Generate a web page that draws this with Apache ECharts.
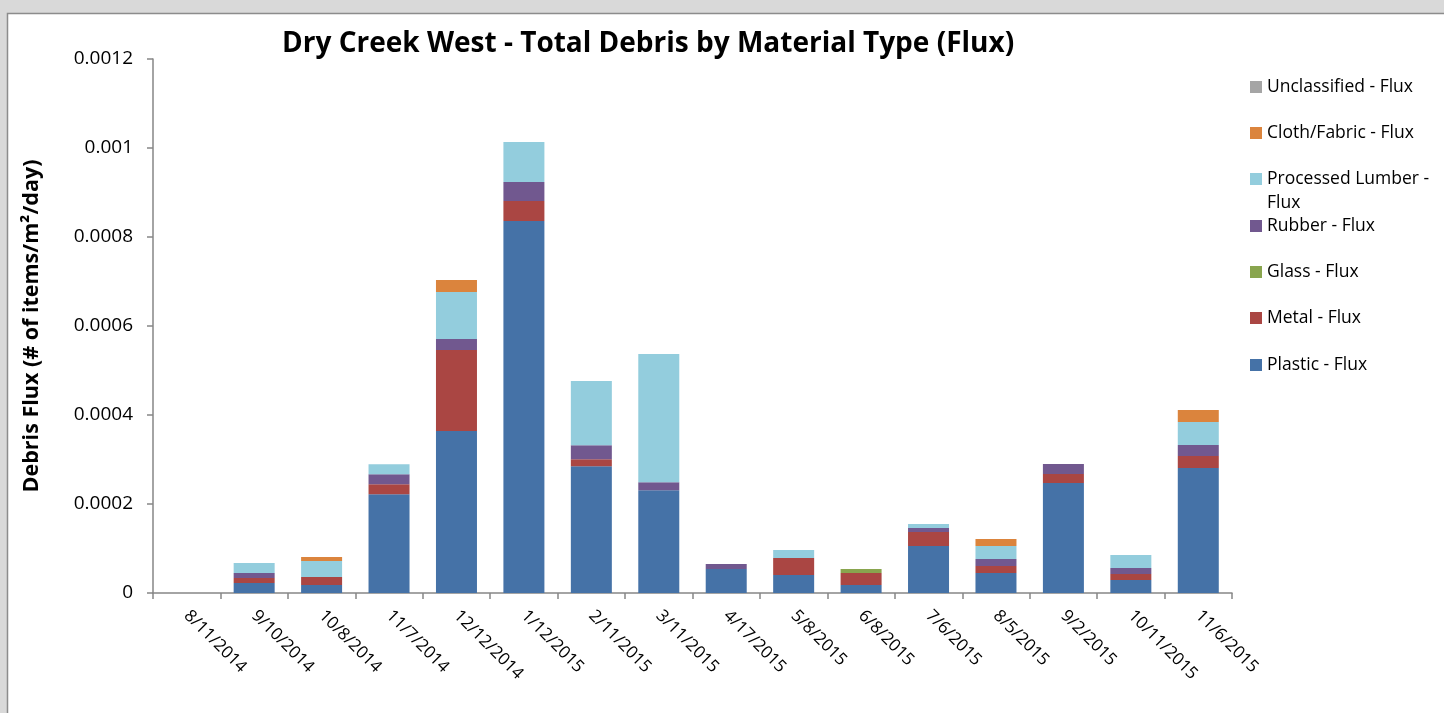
<!DOCTYPE html>
<html>
<head>
<meta charset="utf-8">
<script src="https://cdn.jsdelivr.net/npm/echarts@6/dist/echarts.min.js"></script>
<style>
html,body{margin:0;padding:0;background:#d9d9d9;}
#chart{width:1444px;height:713px;}
</style>
</head>
<body>
<div id="chart"></div>
<script>
const categories = ['8/11/2014','9/10/2014','10/8/2014','11/7/2014','12/12/2014','1/12/2015','2/11/2015','3/11/2015','4/17/2015','5/8/2015','6/8/2015','7/6/2015','8/5/2015','9/2/2015','10/11/2015','11/6/2015'];
const plastic = [0, 0.0000225, 0.000018, 0.000222, 0.000364, 0.000836, 0.000285, 0.000231, 0.000054, 0.0000404, 0.000018, 0.0001056, 0.000045, 0.000247, 0.0000292, 0.000281];
const metal   = [0, 0.0000112, 0.000018, 0.0000225, 0.000182, 0.000045, 0.0000157, 0, 0, 0.0000382, 0.000027, 0.0000315, 0.0000157, 0.0000202, 0.0000135, 0.000027];
const glass   = [0, 0, 0, 0, 0, 0, 0, 0, 0, 0, 0.000009, 0, 0, 0, 0, 0];
const rubber  = [0, 0.0000112, 0, 0.0000225, 0.0000247, 0.0000427, 0.0000315, 0.000018, 0.0000112, 0, 0, 0.000009, 0.0000157, 0.0000225, 0.0000135, 0.0000247];
const lumber  = [0, 0.0000225, 0.000036, 0.0000225, 0.0001056, 0.0000899, 0.000144, 0.000288, 0, 0.000018, 0, 0.000009, 0.0000292, 0, 0.0000292, 0.0000517];
const cloth   = [0, 0, 0.000009, 0, 0.000027, 0, 0, 0, 0, 0, 0, 0, 0.0000157, 0, 0, 0.000027];
const unclassified = [0, 0, 0, 0, 0, 0, 0, 0, 0, 0, 0, 0, 0, 0, 0, 0];
const yTicks = ['0','0.0002','0.0004','0.0006','0.0008','0.001','0.0012'];

const seriesDefs = [
  {name:'Plastic - Flux', data:plastic, color:'#4572A7'},
  {name:'Metal - Flux', data:metal, color:'#AA4643'},
  {name:'Glass - Flux', data:glass, color:'#89A54E'},
  {name:'Rubber - Flux', data:rubber, color:'#71588F'},
  {name:'Processed Lumber - Flux', data:lumber, color:'#93CDDD'},
  {name:'Cloth/Fabric - Flux', data:cloth, color:'#DB843D'},
  {name:'Unclassified - Flux', data:unclassified, color:'#A5A5A5'}
];
const FONT = '"Open Sans", sans-serif';
const legendY = {
  'Unclassified - Flux':87,
  'Cloth/Fabric - Flux':133,
  'Processed Lumber - Flux':179,
  'Rubber - Flux':226,
  'Glass - Flux':272,
  'Metal - Flux':318,
  'Plastic - Flux':365
};
const legends = seriesDefs.map(s => {
  const two = s.name === 'Processed Lumber - Flux';
  return {
    show:true, orient:'vertical', left:1250,
    top: legendY[s.name]-12,
    padding:0, itemWidth:12, itemHeight: two ? 36 : 12, icon:'rect',
    selectedMode:false,
    data:[two ? {name:s.name, icon:'path://M0,0H12V12H0Z M0,36L0.01,36'} : s.name],
    formatter: n => two ? 'Processed Lumber -\nFlux' : n,
    textStyle:{fontFamily:FONT, fontSize:17.5, color:'#000', lineHeight:24}
  };
});

const chart = echarts.init(document.getElementById('chart'), null, {renderer:'canvas'});
chart.setOption({
  animation:false,
  backgroundColor:'#d9d9d9',
  graphic:[{type:'rect', z:-10, silent:true, shape:{x:7.5, y:13.5, width:1450, height:710}, style:{fill:'#ffffff', stroke:'#8c8c8c', lineWidth:1.5}}],
  title:{text:'Dry Creek West - Total Debris by Material Type (Flux)', left:282, top:30, padding:0,
    textStyle:{fontFamily:FONT, fontSize:28, fontWeight:'bold', color:'#000'}},
  legend: legends,
  grid:{left:153, right:212, top:59, bottom:120, containLabel:false},
  xAxis:{type:'category', data:categories,
    axisLine:{lineStyle:{color:'#868686', width:1.5}},
    axisTick:{show:true, length:6, alignWithLabel:false, lineStyle:{color:'#868686', width:1.5}},
    axisLabel:{rotate:-45, interval:0, margin:20, fontFamily:FONT, fontSize:17, color:'#000'}
  },
  yAxis:{type:'value', min:0, max:0.0012, interval:0.0002,
    name:'Debris Flux (# of items/m\u00B2/day)', nameLocation:'middle', nameGap:110,
    nameTextStyle:{fontFamily:FONT, fontSize:21.5, fontWeight:'bold', color:'#000'},
    axisLine:{show:true, lineStyle:{color:'#868686', width:1.5}},
    axisTick:{show:true, length:6, lineStyle:{color:'#868686', width:1.5}},
    splitLine:{show:false},
    axisLabel:{margin:20, fontFamily:FONT, fontSize:19, color:'#000',
      formatter:(v) => yTicks[Math.round(v/0.0002)]}
  },
  series: seriesDefs.map(s => ({
    name:s.name, type:'bar', stack:'total', data:s.data, barWidth:41,
    itemStyle:{color:s.color}
  }))
});
</script>
</body>
</html>
